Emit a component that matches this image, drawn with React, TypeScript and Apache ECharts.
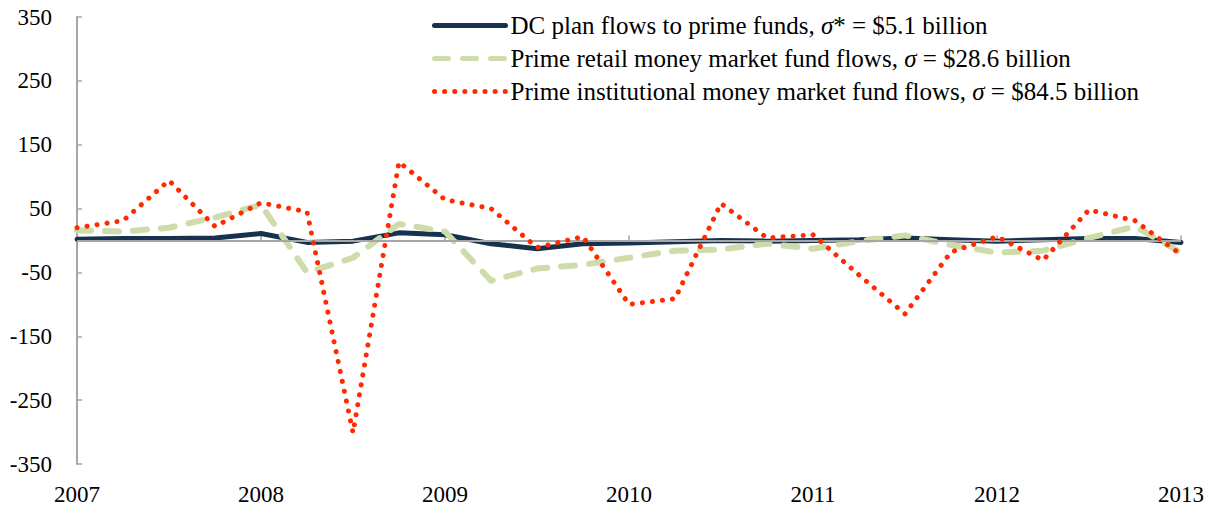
import React, { useEffect, useRef } from "react";
import * as echarts from "echarts";

const quarters: string[] = [
  "2007", "2007 Q2", "2007 Q3", "2007 Q4",
  "2008", "2008 Q2", "2008 Q3", "2008 Q4",
  "2009", "2009 Q2", "2009 Q3", "2009 Q4",
  "2010", "2010 Q2", "2010 Q3", "2010 Q4",
  "2011", "2011 Q2", "2011 Q3", "2011 Q4",
  "2012", "2012 Q2", "2012 Q3", "2012 Q4",
  "2013",
];

const dcPlanFlows: number[] = [
  2, 3, 3, 4, 11, -3, -1, 12, 9, -5, -13, -5, -4, -2, 0, -1, 0, 1, 4, 1, -1, 1, 3, 3, -3,
];

const primeRetailFlows: number[] = [
  16, 14, 20, 36, 56, -50, -27, 26, 14, -63, -44, -38, -27, -16, -14, -5, -13, -1, 8, -7, -19, -16, 4, 22, -19,
];

const primeInstitutionalFlows: number[] = [
  20, 31, 94, 22, 59, 45, -301, 123, 64, 50, -11, 6, -100, -91, 58, 4, 9, -54, -115, -18, 6, -31, 48, 31, -22,
];

const seriesNames: string[] = [
  "DC plan flows to prime funds, σ* = $5.1 billion",
  "Prime retail money market fund flows, σ = $28.6 billion",
  "Prime institutional money market fund flows, σ = $84.5 billion",
];

const yTicks = { min: -350, max: 350, interval: 100 };

const FONT = "Liberation Serif";

function legendFormatter(name: string): string {
  const idx = name.indexOf("σ");
  if (idx < 0) return `{t|${name}}`;
  return `{t|${name.slice(0, idx)}}{i|σ}{t|${name.slice(idx + 1)}}`;
}

export default function App() {
  const ref = useRef<HTMLDivElement>(null);

  useEffect(() => {
    if (!ref.current) return;
    const chart = echarts.init(ref.current, undefined, { renderer: "svg" });
    const axisGray = "#a6a6a6";
    chart.setOption({
      animation: false,
      backgroundColor: "#ffffff",
      textStyle: { fontFamily: FONT, color: "#000" },
      grid: { left: 77, right: 30, top: 17, bottom: 48, containLabel: false },
      legend: {
        orient: "vertical",
        left: 427,
        top: 8,
        itemWidth: 71,
        itemHeight: 20,
        itemGap: 8,
        data: seriesNames,
        formatter: legendFormatter,
        itemStyle: { opacity: 0, borderWidth: 0 },
        lineStyle: { width: 5 },
        textStyle: {
          color: "#000",
          fontFamily: FONT,
          fontSize: 25,
          rich: {
            t: { fontFamily: FONT, fontSize: 25, color: "#000" },
            i: { fontFamily: FONT, fontSize: 25, color: "#000", fontStyle: "italic" },
          },
        },
      },
      xAxis: {
        type: "category",
        data: quarters,
        boundaryGap: false,
        axisLine: { lineStyle: { color: axisGray, width: 2 } },
        axisTick: { inside: true, length: 5, interval: 3, lineStyle: { color: axisGray, width: 1.5 } },
        axisLabel: {
          interval: 3,
          margin: 19,
          color: "#000",
          fontFamily: FONT,
          fontSize: 23,
        },
        splitLine: { show: false },
      },
      yAxis: {
        type: "value",
        min: yTicks.min,
        max: yTicks.max,
        interval: yTicks.interval,
        axisLine: { show: true, lineStyle: { color: axisGray, width: 2 } },
        axisTick: { show: true, inside: true, length: 5, lineStyle: { color: axisGray, width: 1.5 } },
        axisLabel: { margin: 25, color: "#000", fontFamily: FONT, fontSize: 23 },
        splitLine: { show: false },
      },
      series: [
        {
          name: seriesNames[0],
          type: "line",
          data: dcPlanFlows,
          symbol: "none",
          z: 2,
          lineStyle: { color: "#17324f", width: 5, cap: "round", join: "round" },
          itemStyle: { color: "#17324f" },
        },
        {
          name: "zero",
          type: "line",
          data: [],
          z: 3,
          markLine: {
            silent: true,
            symbol: "none",
            label: { show: false },
            lineStyle: { color: "#a6a6a6", width: 2, type: "solid" },
            data: [{ yAxis: 0 }],
          },
        },
        {
          name: seriesNames[1],
          type: "line",
          data: primeRetailFlows,
          symbol: "none",
          z: 4,
          lineStyle: { color: "#cddcaa", width: 6, type: [14, 14], cap: "round", join: "round" },
          itemStyle: { color: "#cddcaa" },
        },
        {
          name: seriesNames[2],
          type: "line",
          data: primeInstitutionalFlows,
          symbol: "none",
          z: 5,
          lineStyle: { color: "#ff2a00", width: 5, type: [0.1, 10], cap: "round", join: "round" },
          itemStyle: { color: "#ff2a00" },
        },
      ],
    });
    return () => chart.dispose();
  }, []);

  return (
    <div
      ref={ref}
      style={{ position: "absolute", left: 0, top: 0, width: 1211, height: 512, background: "#fff" }}
    />
  );
}
